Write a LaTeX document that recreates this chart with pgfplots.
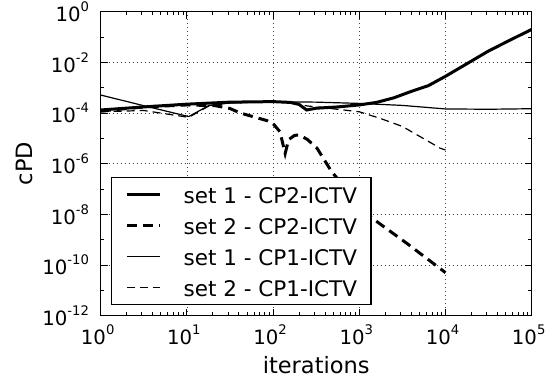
\documentclass[border=0pt]{standalone}
\usepackage{pgfplots}
\pgfplotsset{compat=1.18}
\usepackage{fontspec}
\setmainfont{DejaVu Sans}
\newcommand{\tp}[1]{10\raisebox{10pt}{\fontsize{13.2}{14}\selectfont #1}}
\begin{document}
\begin{tikzpicture}
\useasboundingbox (-100.7pt,-67.3pt) rectangle (446.3pt,315.7pt);
\begin{axis}[
  at={(0pt,0pt)}, anchor=south west,
  scale only axis, width=431pt, height=304pt,
  xmode=log, ymode=log,
  xmin=1, xmax=1e5, ymin=1e-12, ymax=1,
  xtick={1,10,100,1000,10000,100000},
  xticklabels={\tp{0},\tp{1},\tp{2},\tp{3},\tp{4},\tp{5}},
  minor xtick={2,3,4,5,6,7,8,9,20,30,40,50,60,70,80,90,200,300,400,500,600,700,800,900,2000,3000,4000,5000,6000,7000,8000,9000,20000,30000,40000,50000,60000,70000,80000,90000},
  ytick={1e-12,1e-10,1e-8,1e-6,1e-4,1e-2,1},
  yticklabels={\tp{-12},\tp{-10},\tp{-8},\tp{-6},\tp{-4},\tp{-2},\tp{0}},
  minor ytick={1e-11,1e-9,1e-7,1e-5,1e-3,1e-1},
  tick align=inside,
  major tick length=7pt, minor tick length=3.5pt,
  every tick/.style={black, line width=0.9pt},
  axis line style={black, line width=1.3pt},
  grid=major,
  major grid style={black!75, line width=0.7pt, dash pattern=on 1pt off 3pt},
  xticklabel style={font=\fontsize{19.7}{22}\selectfont, inner sep=0pt, yshift=-9pt, xshift=-3pt},
  yticklabel style={font=\fontsize{19.7}{22}\selectfont, inner sep=0pt, xshift=-11.5pt},
  xlabel={iterations},
  ylabel={cPD},
  xlabel style={font=\fontsize{22.5}{26}\selectfont, at={(axis description cs:0.5,0)}, anchor=base, yshift=-57.6pt},
  ylabel style={font=\fontsize{22.5}{26}\selectfont, at={(axis description cs:0,0.5)}, anchor=base, rotate=0, yshift=67.7pt},
  legend cell align=left,
  legend image code/.code={\draw[#1] (0pt,0pt) -- (33pt,0pt);},
  legend style={at={(axis description cs:0,0)}, anchor=south west, xshift=10.3pt, yshift=10.7pt,
    draw=black, line width=1.2pt, fill=white,
    font=\fontsize{21.5}{24}\selectfont,
    inner xsep=14pt, inner ysep=6pt, row sep=9.1pt,
    nodes={inner xsep=0pt, inner ysep=0pt, text height=20pt, text depth=2pt},
    /tikz/every odd column/.append style={column sep=22pt}},
]
\addplot[black, line width=3pt] coordinates {
(1,1.32e-4)(3.16,1.74e-4)(10,2.24e-4)(31.6,2.69e-4)(100,2.82e-4)(158,2.63e-4)(200,2.19e-4)(245,1.32e-4)(316,1.55e-4)(562,1.74e-4)(1000,2.09e-4)(1585,2.63e-4)(2512,3.98e-4)(3981,7.08e-4)(6310,1.20e-3)(10000,2.82e-3)(17783,8.91e-3)(31623,2.82e-2)(56234,7.59e-2)(100000,0.2)
};
\addlegendentry{set 1 - CP2-ICTV}
\addplot[black, line width=3pt, dash pattern=on 10pt off 6pt] coordinates {
(1,1.20e-4)(3.16,1.74e-4)(10,2.09e-4)(21.4,1.95e-4)(31.6,1.51e-4)(41.7,1.0e-4)(85.1,5.01e-5)(100,3.80e-5)(120.2,1.82e-5)(138,2.51e-6)(151.4,8.91e-6)(177.8,1.32e-5)(204.2,1.35e-5)(251.2,8.91e-6)(323.6,4.07e-6)(478.6,4.79e-7)(794.3,6.31e-8)(1259,9.33e-9)(3548,7.24e-10)(10000,5.01e-11)
};
\addlegendentry{set 2 - CP2-ICTV}
\addplot[black, line width=1.2pt] coordinates {
(1,5.13e-4)(3.16,1.95e-4)(10.5,7.24e-5)(17.8,1.95e-4)(31.6,2.51e-4)(100,2.82e-4)(316,2.69e-4)(1000,2.40e-4)(3162,2.0e-4)(10000,1.45e-4)(31623,1.41e-4)(100000,1.48e-4)
};
\addlegendentry{set 1 - CP1-ICTV}
\addplot[black, line width=1.2pt, dash pattern=on 8pt off 5pt] coordinates {
(1,1.12e-4)(3.16,1.26e-4)(10.5,6.76e-5)(17.8,1.86e-4)(31.6,2.51e-4)(100,2.75e-4)(158,2.51e-4)(251,1.9e-4)(436.5,1.55e-4)(1000,1.12e-4)(1778,6.03e-5)(3162,2.95e-5)(8710,4.07e-6)(10000,3.47e-6)
};
\addlegendentry{set 2 - CP1-ICTV}
\end{axis}
\end{tikzpicture}
\end{document}
